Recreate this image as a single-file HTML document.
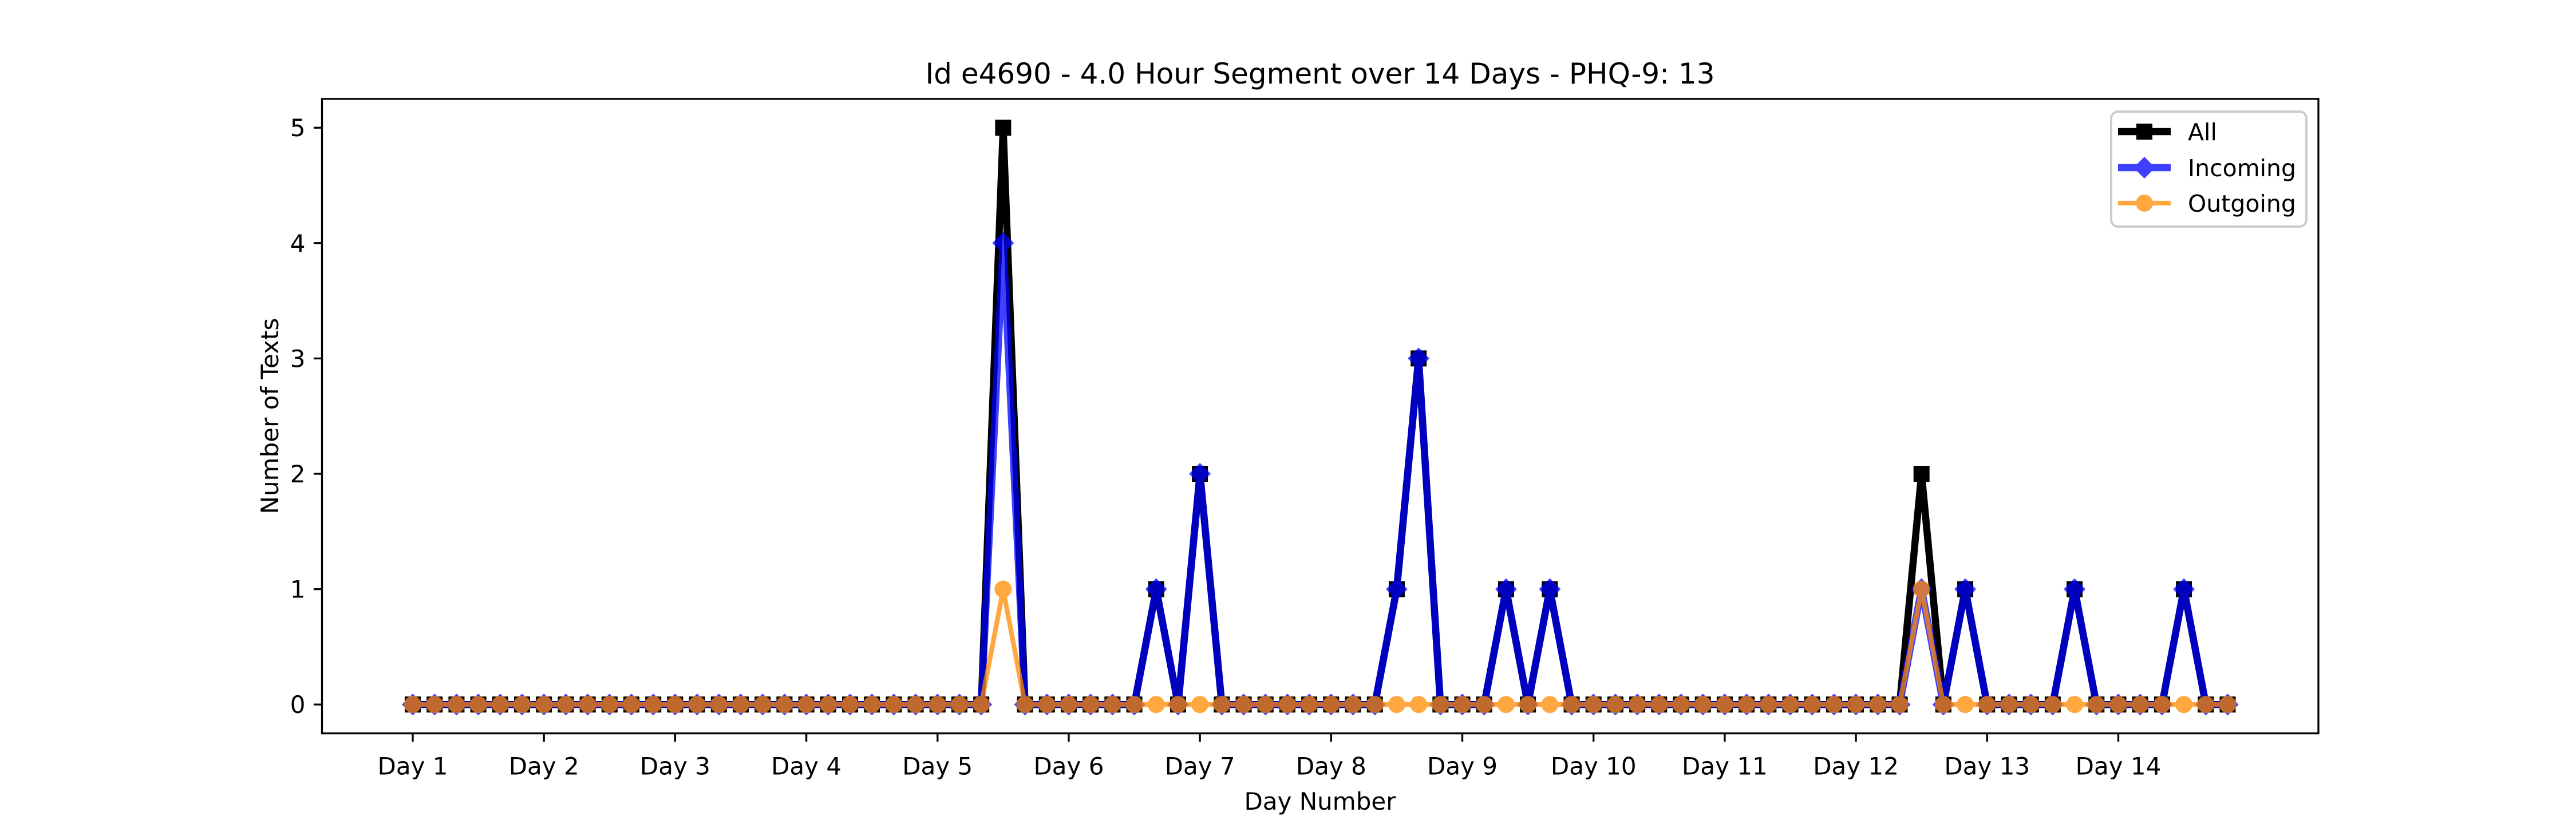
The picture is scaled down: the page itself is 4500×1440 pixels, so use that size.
<!DOCTYPE html>
<html><head><meta charset="utf-8"><style>
html,body{margin:0;padding:0;background:#fff;}
svg{display:block;font-family:"DejaVu Sans","Liberation Sans",sans-serif;}
</style></head><body>
<svg id="chart" width="4500" height="1440" viewBox="0 0 4500 1440" xmlns="http://www.w3.org/2000/svg">
<rect width="4500" height="1440" fill="#fff"/>
<text x="2306" y="146" font-size="50" text-anchor="middle">Id e4690 - 4.0 Hour Segment over 14 Days - PHQ-9: 13</text>
<g id="plot"></g>
<g id="axes"></g>
<text x="2306" y="1415" font-size="42" text-anchor="middle">Day Number</text>
<text transform="translate(486,727) rotate(-90)" font-size="42" text-anchor="middle">Number of Texts</text>
<g>
<rect x="3688" y="195" width="341" height="201" rx="12" fill="#fff" fill-opacity="0.8" stroke="#cccccc" stroke-width="4"/>
<g>
<line x1="3700" y1="230" x2="3792" y2="230" stroke="#000" stroke-width="12.5"/>
<rect x="3732" y="216" width="28" height="28" fill="#000"/>
<text x="3822" y="245" font-size="41">All</text></g>
<g opacity="0.75">
<line x1="3700" y1="293" x2="3792" y2="293" stroke="#0000ff" stroke-width="12.5"/>
<polygon points="3746,274 3765,293 3746,312 3727,293" fill="#0000ff"/></g>
<text x="3822" y="308" font-size="41">Incoming</text>
<g opacity="0.75">
<line x1="3700" y1="355" x2="3792" y2="355" stroke="#ff8c00" stroke-width="8.3"/>
<circle cx="3746" cy="355" r="15" fill="#ff8c00"/></g>
<text x="3822" y="370" font-size="41">Outgoing</text>
</g>
</svg>
<script>
const incoming = [0,0,0,0,0,0, 0,0,0,0,0,0, 0,0,0,0,0,0, 0,0,0,0,0,0, 0,0,0,4,0,0,
  0,0,0,0,1,0, 2,0,0,0,0,0, 0,0,0,1,3,0, 0,0,1,0,1,0, 0,0,0,0,0,0,
  0,0,0,0,0,0, 0,0,0,1,0,1, 0,0,0,0,1,0, 0,0,0,1,0,0];
const outgoing = [0,0,0,0,0,0, 0,0,0,0,0,0, 0,0,0,0,0,0, 0,0,0,0,0,0, 0,0,0,1,0,0,
  0,0,0,0,0,0, 0,0,0,0,0,0, 0,0,0,0,0,0, 0,0,0,0,0,0, 0,0,0,0,0,0,
  0,0,0,0,0,0, 0,0,0,1,0,0, 0,0,0,0,0,0, 0,0,0,0,0,0];
const allTexts = [0,0,0,0,0,0, 0,0,0,0,0,0, 0,0,0,0,0,0, 0,0,0,0,0,0, 0,0,0,5,0,0,
  0,0,0,0,1,0, 2,0,0,0,0,0, 0,0,0,1,3,0, 0,0,1,0,1,0, 0,0,0,0,0,0,
  0,0,0,0,0,0, 0,0,0,2,0,1, 0,0,0,0,1,0, 0,0,0,1,0,0];
const xTickLabels = ["Day 1","Day 2","Day 3","Day 4","Day 5","Day 6","Day 7","Day 8","Day 9","Day 10","Day 11","Day 12","Day 13","Day 14"];
const yTickValues = [0,1,2,3,4,5];

const NS = "http://www.w3.org/2000/svg";
const L = 562.5, R = 4050, T = 172.8, B = 1281.6;
const n = allTexts.length;
const ymax = Math.max(...allTexts);
const xmin = -0.05*(n-1), xmax = (n-1)*1.05;
const ylo = -0.05*ymax, yhi = ymax*1.05;
const xs = i => L + (i - xmin)/(xmax - xmin)*(R - L);
const ys = v => B - (v - ylo)/(yhi - ylo)*(B - T);
function mk(tag, attrs, parent){ const e = document.createElementNS(NS, tag); for (const k in attrs) e.setAttribute(k, attrs[k]); parent.appendChild(e); return e; }
const plot = document.getElementById('plot');
const axes = document.getElementById('axes');

function series(vals, color, lw, marker, name, alpha){
  const g = mk('g', {opacity: alpha}, plot);
  
  
  const pts = vals.map((v,i)=> xs(i).toFixed(1)+','+ys(v).toFixed(1)).join(' ');
  const pl = mk('polyline', {points: pts, fill:'none', stroke: color, 'stroke-width': lw, 'stroke-linejoin':'miter'}, g);
  
  
  vals.forEach((v,i)=>{
    const x = xs(i), y = ys(v); let m;
    if (marker === 's') m = mk('rect', {x: x-14, y: y-14, width: 28, height: 28, fill: color}, g);
    else if (marker === 'D') m = mk('polygon', {points: `${x},${y-19} ${x+19},${y} ${x},${y+19} ${x-19},${y}`, fill: color}, g);
    else m = mk('circle', {cx: x, cy: y, r: 15, fill: color}, g);
    
    
  });
}
series(allTexts, '#000000', 12.5, 's', 'all', 1);
series(incoming, '#0000ff', 12.5, 'D', 'incoming', 0.75);
series(outgoing, '#ff8c00', 8.3, 'o', 'outgoing', 0.75);

const frame = mk('rect', {x: L, y: T, width: R-L, height: B-T, fill:'none', stroke:'#000', 'stroke-width': 3.3}, axes);


xTickLabels.forEach((lab, k)=>{
  const x = xs(k*6);
  const t = mk('line', {x1:x, y1:B, x2:x, y2:B+14.6, stroke:'#000', 'stroke-width':3.3}, axes);
  
  
  const tx = mk('text', {x:x, y:B+72, 'font-size':42, 'text-anchor':'middle'}, axes);
  tx.textContent = lab;
  
  
});
yTickValues.forEach(v=>{
  const y = ys(v);
  const t = mk('line', {x1:L-14.6, y1:y, x2:L, y2:y, stroke:'#000', 'stroke-width':3.3}, axes);
  
  
  const tx = mk('text', {x:L-29, y:y+15, 'font-size':42, 'text-anchor':'end'}, axes);
  tx.textContent = v;
  
  
});
</script>
</body></html>
